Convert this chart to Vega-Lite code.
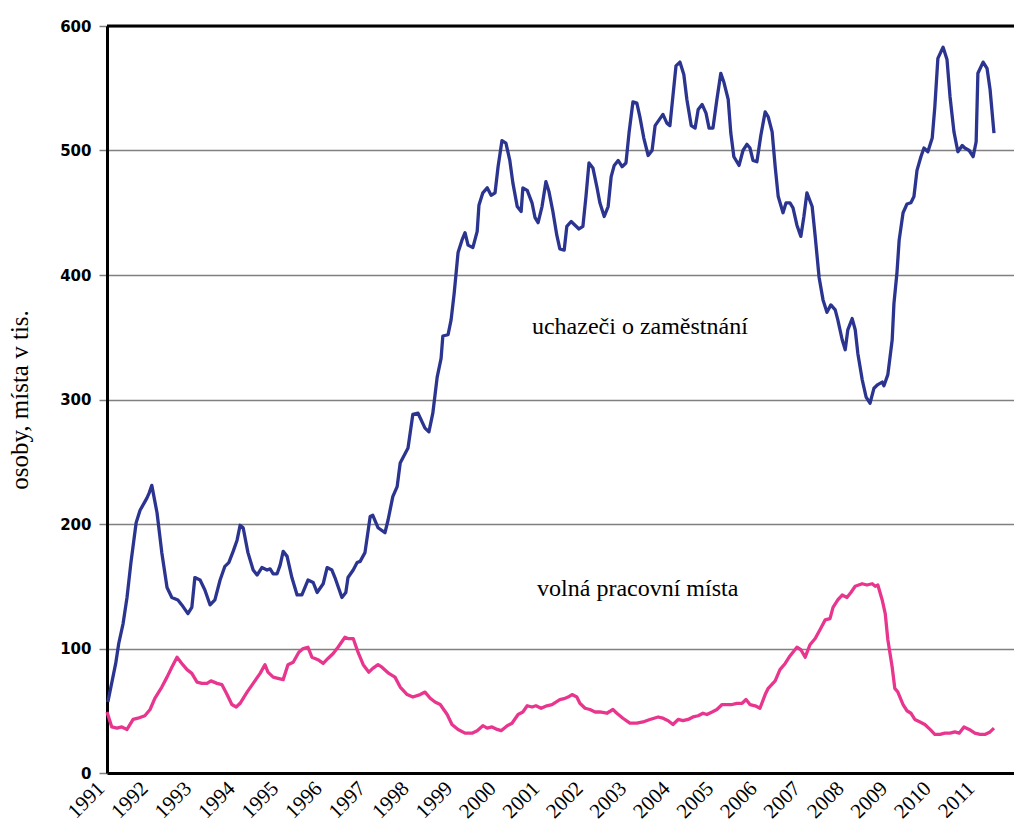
{
"$schema": "https://vega.github.io/schema/vega-lite/v6.json",
"width": 907, "height": 747,
"autosize": {"type": "none"},
"padding": {"left": 107, "top": 26, "right": 0, "bottom": 57},
"background": "white",
"config": {"view": {"stroke": null}},
"datasets": {
"uch": [
{"r":1991.02,"v":57},{"r":1991.2,"v":88},{"r":1991.27,"v":104},{"r":1991.37,"v":120},{"r":1991.46,"v":141},{"r":1991.55,"v":169},{"r":1991.67,"v":201},{"r":1991.76,"v":211},{"r":1991.92,"v":221},{"r":1991.97,"v":225},{"r":1992.03,"v":231},
{"r":1992.15,"v":209},{"r":1992.26,"v":177},{"r":1992.38,"v":149},{"r":1992.49,"v":141},{"r":1992.63,"v":139},{"r":1992.72,"v":135},{"r":1992.86,"v":128},{"r":1992.95,"v":133},{"r":1993.02,"v":157},{"r":1993.14,"v":155},{"r":1993.25,"v":147},{"r":1993.37,"v":135},{"r":1993.48,"v":139},{"r":1993.6,"v":155},{"r":1993.71,"v":166},{"r":1993.8,"v":169},{"r":1993.9,"v":178},{"r":1993.99,"v":187},
{"r":1994.06,"v":199},{"r":1994.13,"v":197},{"r":1994.24,"v":177},{"r":1994.36,"v":163},{"r":1994.45,"v":159},{"r":1994.56,"v":165},{"r":1994.68,"v":163},{"r":1994.75,"v":164},{"r":1994.82,"v":160},{"r":1994.91,"v":160},{"r":1994.98,"v":167},{"r":1995.05,"v":178},{"r":1995.14,"v":174},{"r":1995.25,"v":157},{"r":1995.37,"v":143},{"r":1995.48,"v":143},{"r":1995.62,"v":155},{"r":1995.74,"v":153},{"r":1995.83,"v":145},{"r":1995.97,"v":152},
{"r":1996.06,"v":165},{"r":1996.17,"v":163},{"r":1996.24,"v":157},{"r":1996.4,"v":141},{"r":1996.49,"v":145},{"r":1996.54,"v":157},{"r":1996.66,"v":163},{"r":1996.75,"v":169},{"r":1996.82,"v":170},{"r":1996.93,"v":177},{"r":1997.05,"v":206},{"r":1997.11,"v":207},{"r":1997.23,"v":197},{"r":1997.39,"v":193},{"r":1997.46,"v":203},{"r":1997.57,"v":222},{"r":1997.67,"v":230},{"r":1997.74,"v":249},{"r":1997.92,"v":261},
{"r":1998.03,"v":288},{"r":1998.15,"v":289},{"r":1998.31,"v":277},{"r":1998.4,"v":274},{"r":1998.49,"v":289},{"r":1998.59,"v":318},{"r":1998.68,"v":333},{"r":1998.72,"v":351},{"r":1998.84,"v":352},{"r":1998.91,"v":364},{"r":1998.98,"v":385},{"r":1999.07,"v":418},{"r":1999.16,"v":428},{"r":1999.23,"v":434},{"r":1999.3,"v":424},{"r":1999.41,"v":422},{"r":1999.51,"v":435},{"r":1999.55,"v":456},{"r":1999.64,"v":466},{"r":1999.74,"v":470},{"r":1999.83,"v":464},{"r":1999.92,"v":466},{"r":1999.99,"v":487},
{"r":2000.08,"v":508},{"r":2000.17,"v":506},{"r":2000.26,"v":492},{"r":2000.33,"v":474},{"r":2000.43,"v":455},{"r":2000.52,"v":451},{"r":2000.56,"v":470},{"r":2000.66,"v":468},{"r":2000.77,"v":458},{"r":2000.84,"v":446},{"r":2000.91,"v":442},{"r":2001.0,"v":455},{"r":2001.09,"v":475},{"r":2001.16,"v":467},{"r":2001.25,"v":451},{"r":2001.34,"v":432},{"r":2001.41,"v":421},{"r":2001.51,"v":420},{"r":2001.57,"v":439},{"r":2001.67,"v":443},{"r":2001.76,"v":440},{"r":2001.85,"v":437},{"r":2001.94,"v":439},
{"r":2002.01,"v":463},{"r":2002.08,"v":490},{"r":2002.17,"v":486},{"r":2002.26,"v":471},{"r":2002.33,"v":458},{"r":2002.43,"v":447},{"r":2002.52,"v":455},{"r":2002.59,"v":479},{"r":2002.66,"v":488},{"r":2002.75,"v":492},{"r":2002.84,"v":487},{"r":2002.93,"v":490},{"r":2003.0,"v":514},{"r":2003.09,"v":539},{"r":2003.18,"v":538},{"r":2003.25,"v":527},{"r":2003.34,"v":510},{"r":2003.44,"v":496},{"r":2003.53,"v":500},{"r":2003.6,"v":520},{"r":2003.78,"v":529},{"r":2003.87,"v":522},{"r":2003.94,"v":520},
{"r":2004.08,"v":568},{"r":2004.17,"v":571},{"r":2004.26,"v":561},{"r":2004.33,"v":541},{"r":2004.43,"v":520},{"r":2004.52,"v":518},{"r":2004.59,"v":533},{"r":2004.68,"v":537},{"r":2004.77,"v":530},{"r":2004.84,"v":518},{"r":2004.93,"v":518},{"r":2005.02,"v":541},{"r":2005.11,"v":562},{"r":2005.18,"v":555},{"r":2005.28,"v":541},{"r":2005.34,"v":514},{"r":2005.41,"v":495},{"r":2005.53,"v":488},{"r":2005.62,"v":500},{"r":2005.71,"v":505},{"r":2005.78,"v":502},{"r":2005.85,"v":492},{"r":2005.94,"v":491},
{"r":2006.03,"v":512},{"r":2006.13,"v":531},{"r":2006.2,"v":527},{"r":2006.29,"v":515},{"r":2006.36,"v":487},{"r":2006.43,"v":463},{"r":2006.54,"v":450},{"r":2006.61,"v":458},{"r":2006.7,"v":458},{"r":2006.77,"v":454},{"r":2006.86,"v":440},{"r":2006.95,"v":431},{"r":2007.02,"v":447},{"r":2007.09,"v":466},{"r":2007.21,"v":455},{"r":2007.28,"v":431},{"r":2007.37,"v":398},{"r":2007.46,"v":380},{"r":2007.55,"v":370},{"r":2007.64,"v":376},{"r":2007.74,"v":372},{"r":2007.8,"v":364},{"r":2007.9,"v":348},{"r":2007.97,"v":340},
{"r":2008.03,"v":356},{"r":2008.13,"v":365},{"r":2008.2,"v":356},{"r":2008.26,"v":337},{"r":2008.36,"v":316},{"r":2008.45,"v":302},{"r":2008.54,"v":297},{"r":2008.63,"v":309},{"r":2008.72,"v":312},{"r":2008.82,"v":314},{"r":2008.86,"v":311},{"r":2008.95,"v":320},{"r":2009.05,"v":348},{"r":2009.09,"v":377},{"r":2009.16,"v":402},{"r":2009.21,"v":428},{"r":2009.3,"v":450},{"r":2009.39,"v":457},{"r":2009.48,"v":458},{"r":2009.55,"v":463},{"r":2009.62,"v":484},{"r":2009.71,"v":495},{"r":2009.78,"v":502},{"r":2009.87,"v":499},{"r":2009.97,"v":510},
{"r":2010.03,"v":535},{"r":2010.1,"v":574},{"r":2010.22,"v":583},{"r":2010.31,"v":573},{"r":2010.38,"v":543},{"r":2010.47,"v":515},{"r":2010.56,"v":499},{"r":2010.66,"v":504},{"r":2010.72,"v":502},{"r":2010.82,"v":500},{"r":2010.91,"v":495},{"r":2010.98,"v":507},{"r":2011.02,"v":562},{"r":2011.14,"v":571},{"r":2011.23,"v":566},{"r":2011.3,"v":549},{"r":2011.39,"v":514}
],
"vol": [
{"r":1991.0,"v":49},{"r":1991.11,"v":37},{"r":1991.23,"v":36},{"r":1991.34,"v":37},{"r":1991.46,"v":35},{"r":1991.6,"v":43},{"r":1991.71,"v":44},{"r":1991.87,"v":46},{"r":1991.99,"v":51},{"r":1992.1,"v":60},{"r":1992.26,"v":69},{"r":1992.38,"v":77},{"r":1992.49,"v":85},{"r":1992.61,"v":93},{"r":1992.72,"v":88},{"r":1992.84,"v":83},{"r":1992.95,"v":80},
{"r":1993.07,"v":73},{"r":1993.18,"v":72},{"r":1993.3,"v":72},{"r":1993.39,"v":74},{"r":1993.53,"v":72},{"r":1993.64,"v":71},{"r":1993.76,"v":63},{"r":1993.87,"v":55},{"r":1993.97,"v":53},{"r":1994.06,"v":56},{"r":1994.22,"v":65},{"r":1994.36,"v":72},{"r":1994.52,"v":80},{"r":1994.63,"v":87},{"r":1994.7,"v":81},{"r":1994.82,"v":77},{"r":1994.93,"v":76},
{"r":1995.05,"v":75},{"r":1995.16,"v":87},{"r":1995.28,"v":89},{"r":1995.41,"v":97},{"r":1995.51,"v":100},{"r":1995.62,"v":101},{"r":1995.71,"v":93},{"r":1995.85,"v":91},{"r":1995.97,"v":88},{"r":1996.08,"v":92},{"r":1996.2,"v":96},{"r":1996.31,"v":101},{"r":1996.47,"v":109},{"r":1996.54,"v":108},{"r":1996.66,"v":108},{"r":1996.77,"v":97},{"r":1996.89,"v":87},
{"r":1997.02,"v":81},{"r":1997.11,"v":84},{"r":1997.23,"v":87},{"r":1997.32,"v":85},{"r":1997.48,"v":80},{"r":1997.62,"v":77},{"r":1997.74,"v":69},{"r":1997.9,"v":63},{"r":1998.03,"v":61},{"r":1998.2,"v":63},{"r":1998.31,"v":65},{"r":1998.43,"v":60},{"r":1998.54,"v":57},{"r":1998.66,"v":55},{"r":1998.82,"v":47},{"r":1998.93,"v":39},
{"r":1999.07,"v":35},{"r":1999.23,"v":32},{"r":1999.39,"v":32},{"r":1999.51,"v":34},{"r":1999.64,"v":38},{"r":1999.74,"v":36},{"r":1999.85,"v":37},{"r":1999.97,"v":35},{"r":2000.06,"v":34},{"r":2000.2,"v":38},{"r":2000.31,"v":40},{"r":2000.45,"v":47},{"r":2000.56,"v":49},{"r":2000.66,"v":54},{"r":2000.77,"v":53},{"r":2000.86,"v":54},{"r":2000.98,"v":52},
{"r":2001.11,"v":54},{"r":2001.23,"v":55},{"r":2001.41,"v":59},{"r":2001.53,"v":60},{"r":2001.6,"v":61},{"r":2001.69,"v":63},{"r":2001.8,"v":61},{"r":2001.87,"v":56},{"r":2001.99,"v":52},{"r":2002.1,"v":51},{"r":2002.22,"v":49},{"r":2002.33,"v":49},{"r":2002.49,"v":48},{"r":2002.63,"v":51},{"r":2002.72,"v":48},{"r":2002.86,"v":44},
{"r":2003.02,"v":40},{"r":2003.18,"v":40},{"r":2003.32,"v":41},{"r":2003.48,"v":43},{"r":2003.67,"v":45},{"r":2003.78,"v":44},{"r":2003.9,"v":42},{"r":2004.01,"v":39},{"r":2004.13,"v":43},{"r":2004.24,"v":42},{"r":2004.36,"v":43},{"r":2004.47,"v":45},{"r":2004.59,"v":46},{"r":2004.7,"v":48},{"r":2004.79,"v":47},{"r":2004.91,"v":49},
{"r":2005.02,"v":51},{"r":2005.14,"v":55},{"r":2005.25,"v":55},{"r":2005.37,"v":55},{"r":2005.48,"v":56},{"r":2005.6,"v":56},{"r":2005.69,"v":59},{"r":2005.78,"v":55},{"r":2005.9,"v":54},{"r":2006.01,"v":52},{"r":2006.13,"v":63},{"r":2006.2,"v":68},{"r":2006.36,"v":74},{"r":2006.47,"v":83},{"r":2006.59,"v":88},{"r":2006.7,"v":94},{"r":2006.86,"v":101},{"r":2006.95,"v":99},
{"r":2007.05,"v":93},{"r":2007.16,"v":103},{"r":2007.28,"v":108},{"r":2007.39,"v":115},{"r":2007.51,"v":123},{"r":2007.62,"v":124},{"r":2007.69,"v":133},{"r":2007.8,"v":139},{"r":2007.9,"v":143},{"r":2008.01,"v":141},{"r":2008.1,"v":145},{"r":2008.2,"v":150},{"r":2008.36,"v":152},{"r":2008.47,"v":151},{"r":2008.59,"v":152},{"r":2008.66,"v":150},{"r":2008.72,"v":151},{"r":2008.82,"v":139},{"r":2008.89,"v":128},{"r":2008.95,"v":107},
{"r":2009.05,"v":85},{"r":2009.11,"v":68},{"r":2009.18,"v":65},{"r":2009.3,"v":55},{"r":2009.39,"v":50},{"r":2009.48,"v":48},{"r":2009.57,"v":43},{"r":2009.69,"v":41},{"r":2009.8,"v":39},{"r":2009.92,"v":35},{"r":2010.03,"v":31},{"r":2010.15,"v":31},{"r":2010.26,"v":32},{"r":2010.38,"v":32},{"r":2010.49,"v":33},{"r":2010.59,"v":32},{"r":2010.7,"v":37},{"r":2010.82,"v":35},{"r":2010.95,"v":32},{"r":2011.07,"v":31},{"r":2011.18,"v":31},{"r":2011.3,"v":33},{"r":2011.39,"v":36}
]
},
"layer": [
{
"data": {"name": "uch"},
"mark": {"type": "line", "color": "#2B3590", "strokeWidth": 3.3, "strokeJoin": "round"},
"encoding": {
"x": {"field": "r", "type": "quantitative",
 "scale": {"domain": [1991, 2011.85], "nice": false, "zero": false},
 "axis": {"values": [1991,1992,1993,1994,1995,1996,1997,1998,1999,2000,2001,2002,2003,2004,2005,2006,2007,2008,2009,2010,2011],
  "format": "d", "title": null, "grid": false, "ticks": false,
  "domainColor": "#000000", "domainWidth": 3,
  "labelAngle": -45, "labelAlign": "right", "labelBaseline": "middle", "labelPadding": 12, "labelOffset": -6,
  "labelFont": "Liberation Serif", "labelFontSize": 21, "labelColor": "#000000",
  "labelFlush": false, "labelOverlap": false, "labelBound": false}},
"y": {"field": "v", "type": "quantitative",
 "scale": {"domain": [0, 600], "nice": false},
 "axis": {"values": [0,100,200,300,400,500,600],
  "title": "osoby, místa v tis.", "titleFont": "Liberation Serif", "titleFontSize": 25, "titleFontWeight": "normal", "titleColor": "#000000", "titlePadding": 27,
  "grid": true, "gridColor": "#808080", "gridWidth": 1.5,
  "tickSize": 8, "tickColor": "#808080", "tickWidth": 1.5,
  "domainColor": "#000000", "domainWidth": 3,
  "labelFont": "DejaVu Sans", "labelFontWeight": "bold", "labelFontSize": 15, "labelColor": "#000000", "labelPadding": 8}}
}
},
{
"data": {"name": "vol"},
"mark": {"type": "line", "color": "#E8368F", "strokeWidth": 3.3, "strokeJoin": "round"},
"encoding": {
"x": {"field": "r", "type": "quantitative"},
"y": {"field": "v", "type": "quantitative"}
}
},
{
"data": {"values": [{"v": 600}]},
"mark": {"type": "rule", "color": "#000000", "strokeWidth": 3},
"encoding": {"y": {"field": "v", "type": "quantitative"}}
},
{
"data": {"values": [{"r": 2003.25, "v": 358, "t": "uchazeči o zaměstnání"}, {"r": 2003.2, "v": 148, "t": "volná pracovní místa"}]},
"mark": {"type": "text", "font": "Liberation Serif", "fontSize": 24, "color": "#000000"},
"encoding": {
"x": {"field": "r", "type": "quantitative"},
"y": {"field": "v", "type": "quantitative"},
"text": {"field": "t"}
}
}
]
}
